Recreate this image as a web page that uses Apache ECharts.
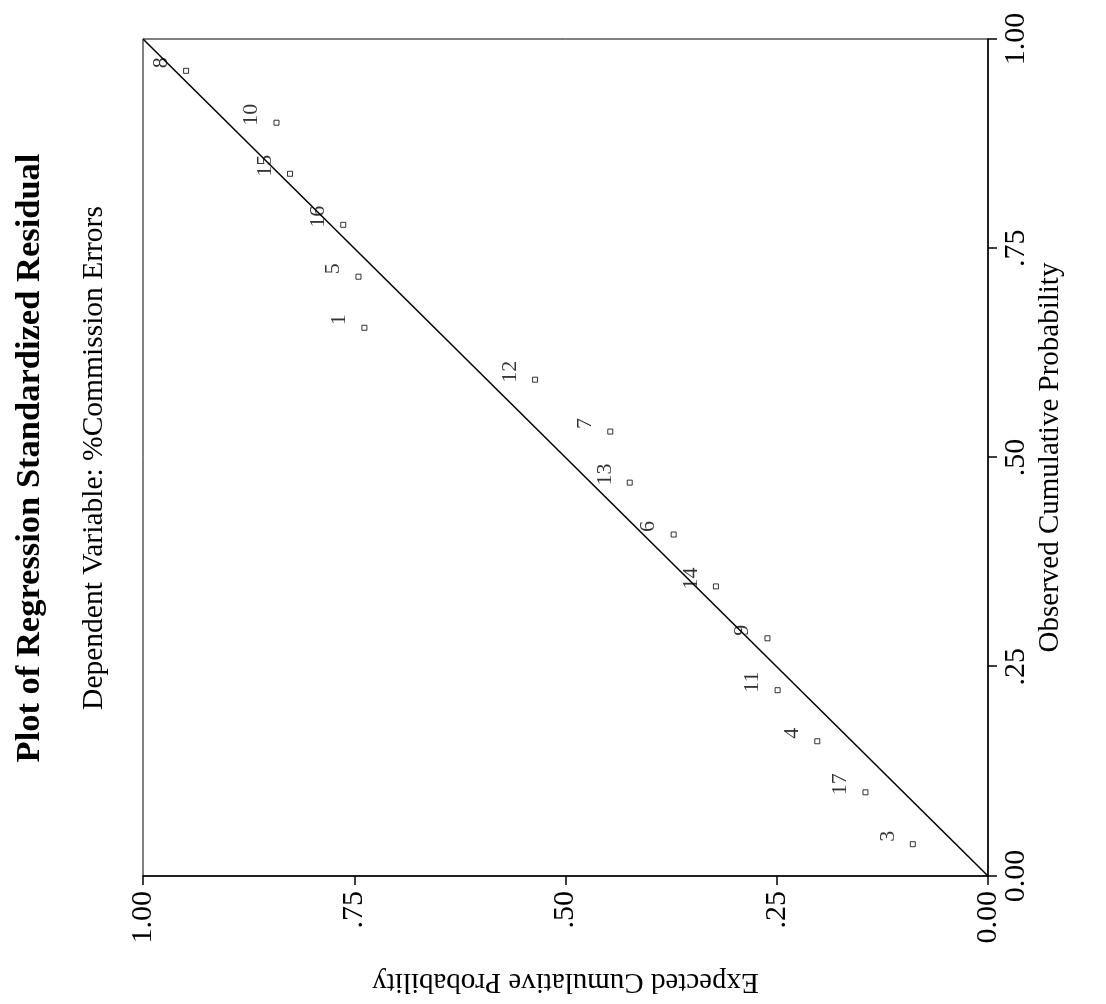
<!DOCTYPE html>
<html><head><meta charset="utf-8">
<script src="https://cdn.jsdelivr.net/npm/echarts@6/dist/echarts.min.js"></script>
<style>
html,body{margin:0;padding:0;width:1106px;height:1004px;overflow:hidden;background:#fff;}
#wrap{position:absolute;left:0;top:0;width:1004px;height:1106px;transform-origin:0 0;transform:translate(0,1004px) rotate(-90deg);}
</style></head><body><div id="wrap"></div>
<script>
const caseIds = ['8','10','15','16','5','1','12','7','13','6','14','9','11','4','17','3'];
const observed = [0.962,0.900,0.839,0.778,0.716,0.655,0.593,0.531,0.470,0.408,0.346,0.284,0.222,0.161,0.100,0.038];
const expected = [0.949,0.842,0.826,0.763,0.745,0.738,0.536,0.447,0.424,0.372,0.322,0.261,0.249,0.202,0.145,0.089];
const refLine = [0, 1];
const tickValues = [0, 0.25, 0.5, 0.75, 1];
const tickLabels = ['0.00', '.25', '.50', '.75', '1.00'];
const titleText = 'Plot of Regression Standardized Residual';
const subtitleText = 'Dependent Variable: %Commission Errors';

const FONT = '"Liberation Serif", "DejaVu Serif", serif';
const fmt = v => { const i = tickValues.indexOf(Math.round(v * 100) / 100); return i >= 0 ? tickLabels[i] : ''; };

const chart = echarts.init(document.getElementById('wrap'), null, {renderer: 'canvas'});
const axisCommon = {
  type: 'value', min: 0, max: 1, interval: 0.25,
  axisLine: {show: true, lineStyle: {color: '#000', width: 1.5}},
  axisTick: {show: true, inside: false, length: 9, lineStyle: {color: '#000', width: 1.5}},
  splitLine: {show: false},
  axisLabel: {formatter: fmt, color: '#000', fontFamily: FONT, fontSize: 30},
  nameLocation: 'middle',
  nameTextStyle: {color: '#000', fontFamily: FONT, fontSize: 29}
};
chart.setOption({
  animation: false,
  backgroundColor: '#fff',
  grid: {left: 127, right: 39, top: 143, bottom: 118, show: true, borderColor: '#000', borderWidth: 1, backgroundColor: 'transparent'},
  xAxis: Object.assign({}, axisCommon, {
    name: 'Observed Cumulative Probability', nameGap: 30,
    axisLabel: Object.assign({}, axisCommon.axisLabel, {margin: 13})
  }),
  yAxis: Object.assign({}, axisCommon, {
    name: 'Expected Cumulative Probability', nameGap: 91,
    axisLabel: Object.assign({}, axisCommon.axisLabel, {margin: 15})
  }),
  graphic: [
    {type: 'text', x: 546, y: 30, style: {text: titleText, fill: '#000', font: 'bold 34.5px ' + FONT, textAlign: 'center', textVerticalAlign: 'middle'}},
    {type: 'text', x: 546, y: 94, style: {text: subtitleText, fill: '#000', font: '29.5px ' + FONT, textAlign: 'center', textVerticalAlign: 'middle'}}
  ],
  series: [
    {
      type: 'line', data: refLine.map(v => [v, v]), symbol: 'none', silent: true,
      lineStyle: {color: '#000', width: 1.5}, z: 2
    },
    {
      type: 'scatter', symbol: 'rect', symbolSize: 5,
      data: observed.map((o, i) => [o, expected[i], caseIds[i]]),
      itemStyle: {color: '#fff', borderColor: '#000', borderWidth: 1},
      label: {show: true, position: 'top', distance: 5, offset: [8, -6], formatter: p => p.data[2], color: '#000', fontFamily: FONT, fontSize: 22},
      z: 3
    }
  ]
});
</script></body></html>
